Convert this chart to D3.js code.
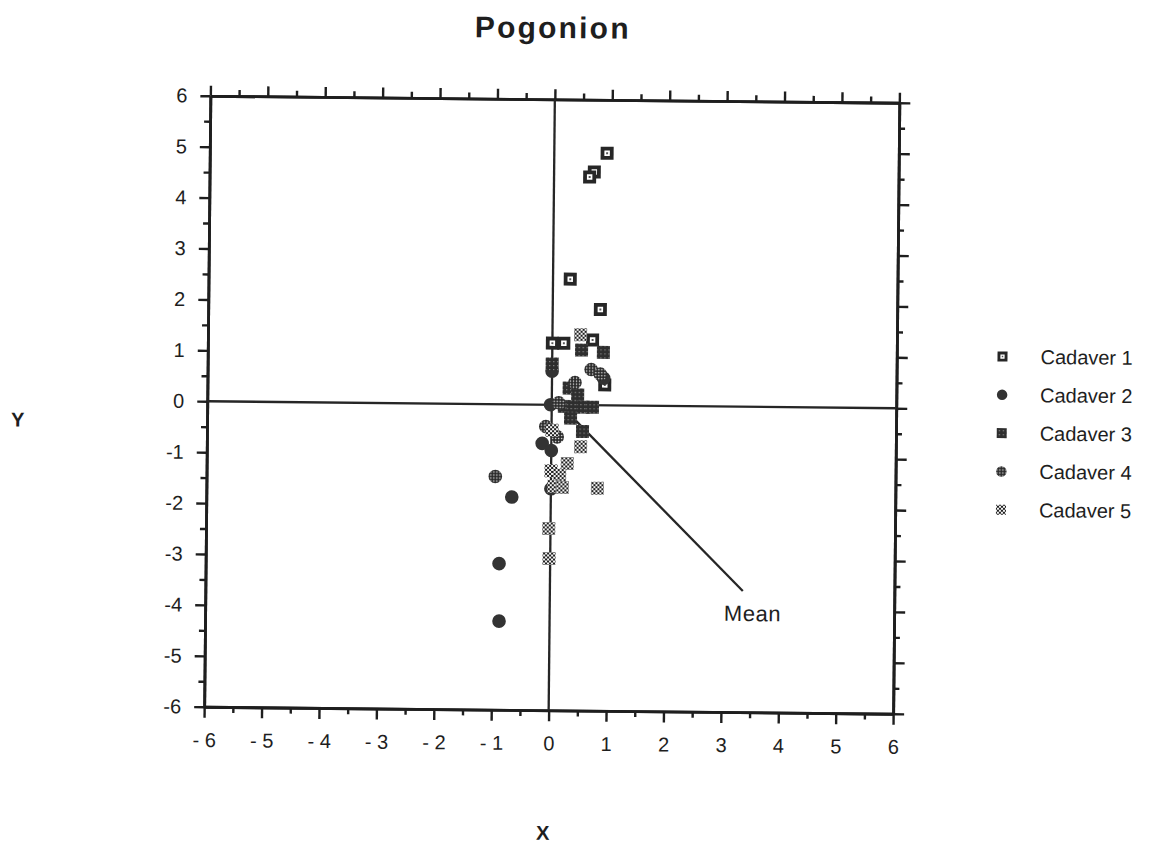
<!DOCTYPE html>
<html><head><meta charset="utf-8">
<script src="https://cdn.jsdelivr.net/npm/d3@7"></script>
<style>
html,body{margin:0;padding:0;background:#fff;}
svg{display:block;}
text{font-family:"Liberation Sans", Arial, Helvetica, sans-serif; fill:#1e1e1e;}
</style></head><body>
<svg id="chart" width="1158" height="850"></svg>
<script>
// Pogonion displacement per cadaver (x, y)
const chartTitle = "Pogonion";
const seriesNames = ["Cadaver 1", "Cadaver 2", "Cadaver 3", "Cadaver 4", "Cadaver 5"];
const cadaver1 = [[0.92,4.95],[0.70,4.58],[0.62,4.48],[0.30,2.47],[0.83,1.88],[0.0,1.21],[0.20,1.21],[0.70,1.28],[0.92,0.40]];
const cadaver2 = [[0.0,0.66],[0.90,0.53],[-0.02,0.0],[-0.16,-0.76],[0.0,-0.90],[0.0,-1.65],[-0.68,-1.82],[-0.89,-3.13],[-0.88,-4.26]];
const cadaver3 = [[0.0,0.80],[0.51,1.08],[0.89,1.04],[0.30,0.33],[0.45,0.20],[0.22,-0.03],[0.38,-0.04],[0.55,-0.04],[0.71,-0.04],[0.33,-0.26],[0.54,-0.52]];
const cadaver4 = [[0.68,0.70],[0.84,0.61],[0.40,0.44],[0.12,0.04],[-0.10,-0.43],[0.10,-0.63],[-0.97,-1.42]];
const cadaver5 = [[0.49,1.38],[0.01,-0.50],[0.51,-0.82],[0.28,-1.15],[0.0,-1.30],[0.15,-1.38],[0.05,-1.60],[0.20,-1.62],[0.81,-1.63],[-0.03,-2.43],[-0.02,-3.02]];
const xTicks = [-6,-5,-4,-3,-2,-1,0,1,2,3,4,5,6];
const yTicks = [-6,-5,-4,-3,-2,-1,0,1,2,3,4,5,6];
const meanPoint = [0.15, 0.0];
const meanLabelPoint = [3.36, -3.62];
const meanLabel = "Mean";
const xTitle = "X";
const yTitle = "Y";

const series = [cadaver1, cadaver2, cadaver3, cadaver4, cadaver5];

const svg = d3.select("#chart");
const plotLeft = 207.25, plotRight = 896.25, plotTop = 99.25, plotBottom = 710.25;
const cx = (plotLeft + plotRight) / 2, cy = (plotTop + plotBottom) / 2;

const x = d3.scaleLinear().domain([-6, 6]).range([plotLeft, plotRight]);
const y = d3.scaleLinear().domain([-6, 6]).range([plotBottom, plotTop]);

// fill patterns for the marker styles
const defs = svg.append("defs");
const p3 = defs.append("pattern").attr("id","pat3").attr("patternUnits","userSpaceOnUse").attr("width",4).attr("height",4);
p3.append("rect").attr("width",4).attr("height",4).attr("fill","#2e2e2e");
p3.append("rect").attr("x",1).attr("y",1).attr("width",1.2).attr("height",1.2).attr("fill","#8c8c8c");
const p4 = defs.append("pattern").attr("id","pat4").attr("patternUnits","userSpaceOnUse").attr("width",3).attr("height",3);
p4.append("rect").attr("width",3).attr("height",3).attr("fill","#262626");
p4.append("rect").attr("x",0.9).attr("y",0.9).attr("width",1.3).attr("height",1.3).attr("fill","#f2f2f2");
const p5 = defs.append("pattern").attr("id","pat5").attr("patternUnits","userSpaceOnUse").attr("width",4).attr("height",4);
p5.append("rect").attr("width",4).attr("height",4).attr("fill","#f4f4f4");
p5.append("rect").attr("x",0).attr("y",0).attr("width",2).attr("height",2).attr("fill","#1e1e1e");
p5.append("rect").attr("x",2).attr("y",2).attr("width",2).attr("height",2).attr("fill","#1e1e1e");

// the printed page sits slightly rotated
const page = svg.append("g").attr("transform", `rotate(0.58, ${cx}, ${cy})`);

page.append("text").attr("x", 549).attr("y", 38).attr("text-anchor","middle")
  .style("font-size","30px").style("font-weight","bold").style("letter-spacing","2.2px").text(chartTitle);

const minorTicks = d3.range(-5.5, 6, 1);
const fmt = d => d < 0 ? "- " + Math.abs(d) : String(d);
const fmtY = d => d < 0 ? "-" + Math.abs(d) : String(d);

function styleAxis(g) {
  g.selectAll("path.domain").attr("stroke","#1e1e1e").attr("stroke-width",2.8);
  g.selectAll(".tick line").attr("stroke","#1e1e1e").attr("stroke-width",2.4);
  g.selectAll(".tick text").style("font-size","20px").attr("fill","#1e1e1e");
}

// bottom
page.append("g").attr("transform",`translate(0,${plotBottom})`)
  .call(d3.axisBottom(x).tickValues(minorTicks).tickSize(6).tickSizeOuter(0).tickFormat(""))
  .call(styleAxis);
page.append("g").attr("transform",`translate(0,${plotBottom})`)
  .call(d3.axisBottom(x).tickValues(xTicks).tickSize(11).tickSizeOuter(0).tickPadding(15).tickFormat(fmt))
  .call(styleAxis);
// top
page.append("g").attr("transform",`translate(0,${plotTop})`)
  .call(d3.axisTop(x).tickValues(minorTicks).tickSize(6).tickSizeOuter(0).tickFormat(""))
  .call(styleAxis);
page.append("g").attr("transform",`translate(0,${plotTop})`)
  .call(d3.axisTop(x).tickValues(xTicks).tickSize(10).tickSizeOuter(0).tickFormat(""))
  .call(styleAxis);
// left
page.append("g").attr("transform",`translate(${plotLeft},0)`)
  .call(d3.axisLeft(y).tickValues(minorTicks).tickSize(6).tickSizeOuter(0).tickFormat(""))
  .call(styleAxis);
page.append("g").attr("transform",`translate(${plotLeft},0)`)
  .call(d3.axisLeft(y).tickValues(yTicks).tickSize(10).tickSizeOuter(0).tickPadding(13).tickFormat(fmtY))
  .call(styleAxis);
// right
page.append("g").attr("transform",`translate(${plotRight},0)`)
  .call(d3.axisRight(y).tickValues(minorTicks).tickSize(6).tickSizeOuter(0).tickFormat(""))
  .call(styleAxis);
page.append("g").attr("transform",`translate(${plotRight},0)`)
  .call(d3.axisRight(y).tickValues(yTicks).tickSize(11).tickSizeOuter(0).tickFormat(""))
  .call(styleAxis);

// zero lines
page.append("line").attr("x1", x(0)).attr("x2", x(0)).attr("y1", plotTop).attr("y2", plotBottom)
  .attr("stroke","#262626").attr("stroke-width",2.3);
page.append("line").attr("x1", plotLeft).attr("x2", plotRight).attr("y1", y(0)).attr("y2", y(0))
  .attr("stroke","#262626").attr("stroke-width",2.3);

// mean pointer
page.append("line").attr("x1", x(meanPoint[0])).attr("y1", y(meanPoint[1]))
  .attr("x2", x(meanLabelPoint[0])).attr("y2", y(meanLabelPoint[1]))
  .attr("stroke","#262626").attr("stroke-width",2.3);
page.append("text").attr("x", x(meanLabelPoint[0]) + 10).attr("y", y(meanLabelPoint[1]) + 30)
  .attr("text-anchor","middle").style("font-size","22px").style("letter-spacing","0.6px").text(meanLabel);

// marker drawing
function drawMarker(g, i, size) {
  const h = size / 2;
  if (i === 0) {
    g.append("rect").attr("x",-h).attr("y",-h).attr("width",size).attr("height",size).attr("fill","#262626");
    g.append("rect").attr("x",-h*0.42).attr("y",-h*0.42).attr("width",h*0.84).attr("height",h*0.84).attr("fill","#fff");
    g.append("rect").attr("x",-h*0.15).attr("y",-h*0.15).attr("width",h*0.3).attr("height",h*0.3).attr("fill","#555");
  } else if (i === 1) {
    g.append("circle").attr("r", h*1.05).attr("fill","#333");
  } else if (i === 2) {
    g.append("rect").attr("x",-h).attr("y",-h).attr("width",size).attr("height",size).attr("fill","url(#pat3)");
  } else if (i === 3) {
    g.append("circle").attr("r", h*1.05).attr("fill","url(#pat4)");
  } else {
    g.append("rect").attr("x",-h).attr("y",-h).attr("width",size).attr("height",size).attr("fill","url(#pat5)");
  }
}

series.forEach((pts, i) => {
  const layer = page.append("g");
  pts.forEach(p => {
    const m = layer.append("g").attr("transform",`translate(${x(p[0])},${y(p[1])})`);
    drawMarker(m, i, 13);
  });
});

// axis titles
page.append("text").attr("x", 18).attr("y", 432).attr("text-anchor","middle")
  .style("font-size","20px").style("font-weight","bold").text(yTitle);
page.append("text").attr("x", 547).attr("y", 840).attr("text-anchor","middle")
  .style("font-size","20px").style("font-weight","bold").text(xTitle);

// legend
const legend = page.append("g").attr("transform","translate(1002,352)");
seriesNames.forEach((name, i) => {
  const row = legend.append("g").attr("transform",`translate(0,${i*38.3})`);
  drawMarker(row.append("g"), i, 10);
  row.append("text").attr("x", 38).attr("y", 7).style("font-size","20px").text(name);
});
</script>
</body></html>
